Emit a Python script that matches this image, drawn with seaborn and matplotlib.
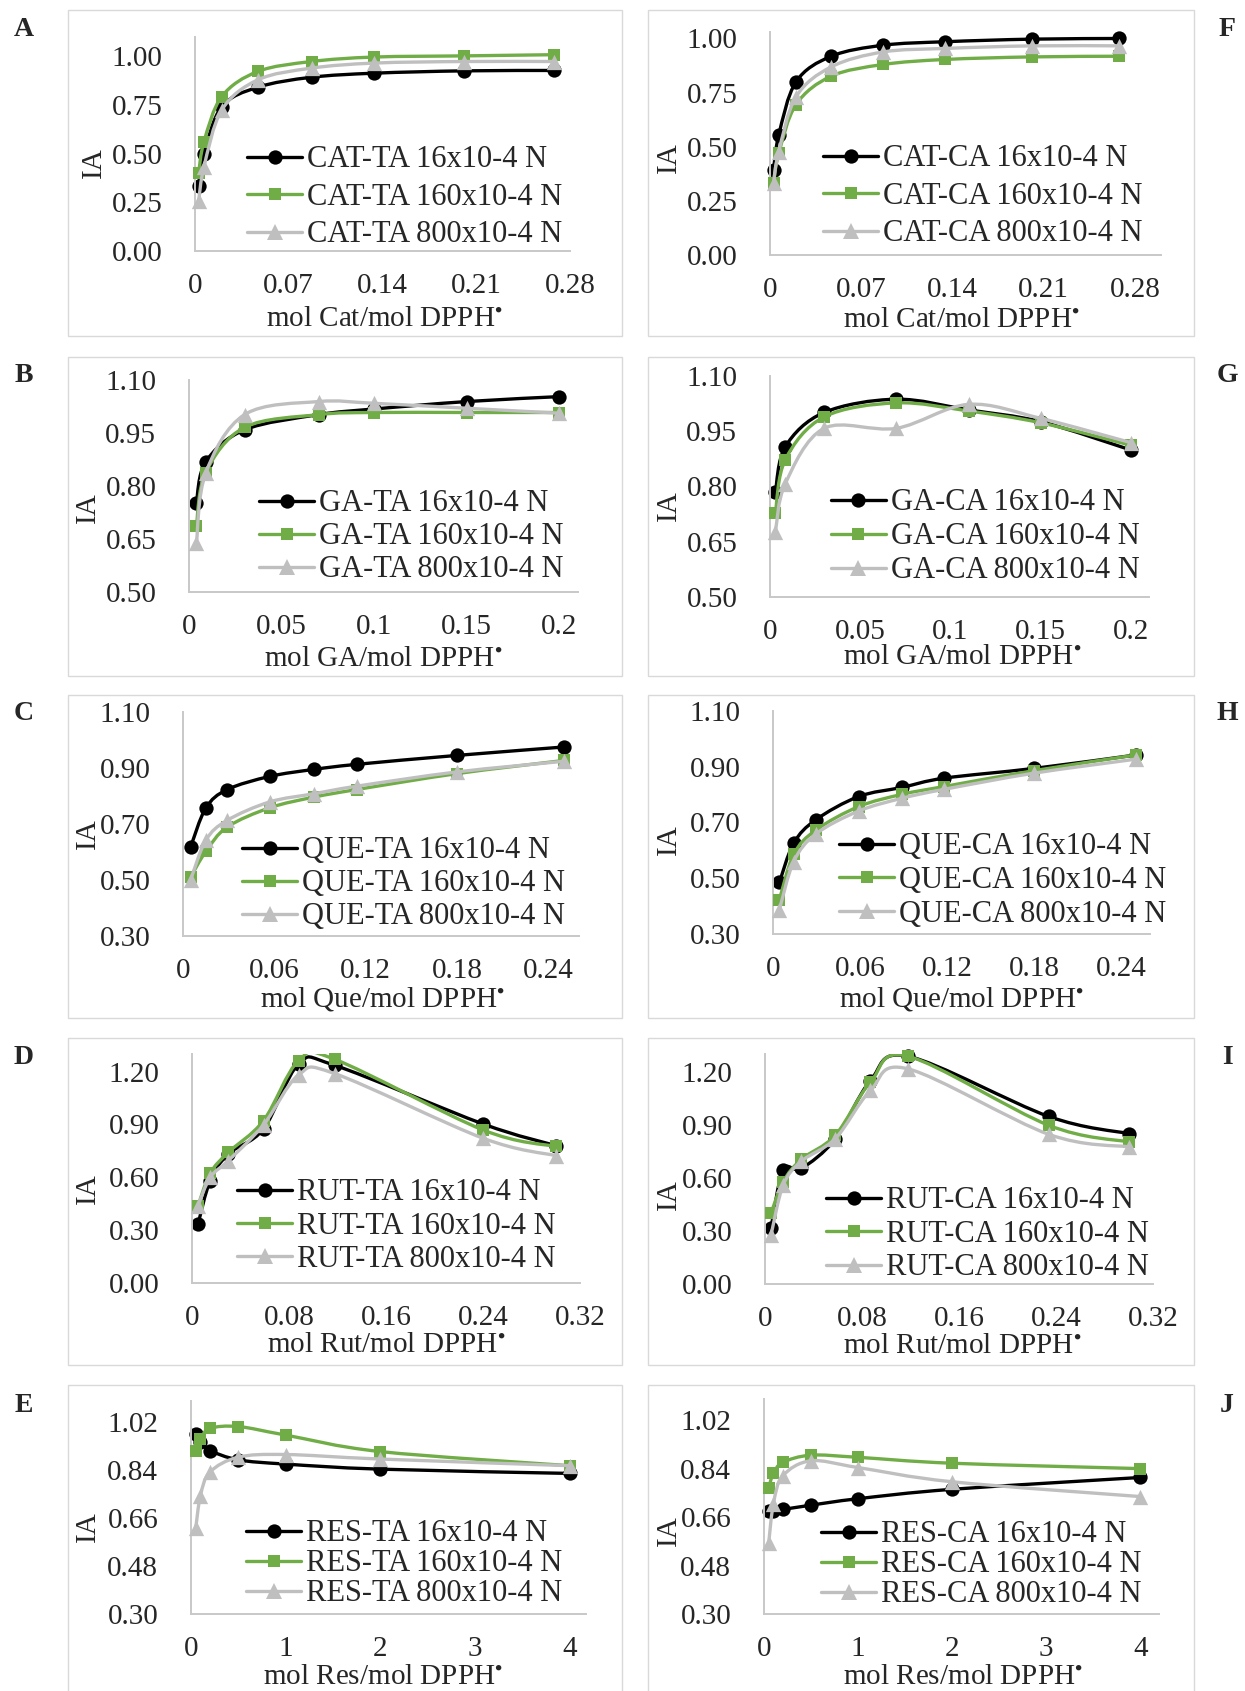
#!/usr/bin/env python3
"""Ten-panel DPPH antioxidant-activity figure (IA vs. mol antioxidant/mol DPPH)."""
import matplotlib
import numpy as np

matplotlib.use("Agg")
import matplotlib.pyplot as plt  # noqa: E402
import seaborn as sns  # noqa: E402
from matplotlib.lines import Line2D  # noqa: E402
from matplotlib.patches import PathPatch, Rectangle  # noqa: E402
from matplotlib.path import Path  # noqa: E402

W, H = 1245, 1691

# ---- data --------------------------------------------------------------
CAT_X = [0.0027, 0.0067, 0.020, 0.047, 0.087, 0.134, 0.201, 0.268]
CAT_TA_16 = [0.335, 0.500, 0.742, 0.842, 0.893, 0.914, 0.926, 0.928]
CAT_TA_160 = [0.399, 0.562, 0.794, 0.923, 0.974, 0.997, 1.003, 1.009]
CAT_TA_800 = [0.256, 0.433, 0.725, 0.880, 0.940, 0.966, 0.974, 0.974]
CAT_CA_16 = [0.392, 0.554, 0.800, 0.918, 0.969, 0.985, 0.997, 1.000]
CAT_CA_160 = [0.334, 0.469, 0.695, 0.826, 0.880, 0.903, 0.915, 0.918]
CAT_CA_800 = [0.334, 0.477, 0.731, 0.869, 0.938, 0.954, 0.966, 0.966]

GA_TA_X = [0.004, 0.009, 0.030, 0.070, 0.100, 0.150, 0.200]
GA_TA_16 = [0.753, 0.868, 0.959, 1.002, 1.018, 1.039, 1.053]
GA_TA_160 = [0.688, 0.838, 0.966, 1.002, 1.008, 1.008, 1.008]
GA_TA_800 = [0.638, 0.836, 1.002, 1.039, 1.034, 1.020, 1.006]
GA_CA_X = [0.003, 0.0085, 0.030, 0.070, 0.110, 0.150, 0.200]
GA_CA_16 = [0.785, 0.908, 1.001, 1.037, 1.008, 0.976, 0.899]
GA_CA_160 = [0.729, 0.873, 0.989, 1.027, 1.005, 0.973, 0.912]
GA_CA_800 = [0.677, 0.808, 0.958, 0.958, 1.023, 0.985, 0.919]

QUE_TA_X = [0.005, 0.015, 0.029, 0.057, 0.086, 0.114, 0.180, 0.250]
QUE_TA_16 = [0.618, 0.757, 0.823, 0.870, 0.895, 0.913, 0.945, 0.975]
QUE_TA_160 = [0.510, 0.602, 0.689, 0.758, 0.796, 0.823, 0.880, 0.927]
QUE_TA_800 = [0.500, 0.642, 0.713, 0.779, 0.808, 0.835, 0.886, 0.924]
QUE_CA_X = [0.0044, 0.0143, 0.0296, 0.059, 0.089, 0.118, 0.180, 0.250]
QUE_CA_16 = [0.485, 0.626, 0.710, 0.793, 0.826, 0.859, 0.894, 0.942]
QUE_CA_160 = [0.423, 0.586, 0.673, 0.757, 0.801, 0.829, 0.886, 0.942]
QUE_CA_800 = [0.387, 0.560, 0.659, 0.741, 0.787, 0.819, 0.877, 0.927]

RUT_TA_X = [0.005, 0.015, 0.030, 0.059, 0.088, 0.118, 0.240, 0.300]
RUT_TA_16 = [0.335, 0.581, 0.733, 0.875, 1.244, 1.235, 0.903, 0.780]
RUT_TA_160 = [0.439, 0.623, 0.742, 0.922, 1.263, 1.269, 0.869, 0.775]
RUT_TA_800 = [0.439, 0.600, 0.695, 0.898, 1.182, 1.188, 0.822, 0.723]
RUT_CA_X = [0.005, 0.015, 0.030, 0.058, 0.087, 0.118, 0.234, 0.300]
RUT_CA_16 = [0.319, 0.644, 0.653, 0.820, 1.150, 1.287, 0.947, 0.850]
RUT_CA_160 = [0.400, 0.578, 0.705, 0.841, 1.141, 1.287, 0.897, 0.803]
RUT_CA_800 = [0.278, 0.559, 0.694, 0.822, 1.094, 1.216, 0.846, 0.775]

RES_X = [0.05, 0.1, 0.2, 0.5, 1, 2, 4]
RES_TA_16 = [0.976, 0.945, 0.914, 0.879, 0.863, 0.844, 0.828]
RES_TA_160 = [0.914, 0.957, 0.997, 1.004, 0.972, 0.910, 0.857]
RES_TA_800 = [0.622, 0.745, 0.833, 0.889, 0.899, 0.882, 0.857]
RES_CA_16 = [0.685, 0.685, 0.689, 0.705, 0.729, 0.764, 0.808]
RES_CA_160 = [0.770, 0.823, 0.864, 0.891, 0.883, 0.861, 0.841]
RES_CA_800 = [0.564, 0.710, 0.814, 0.870, 0.845, 0.792, 0.737]

CAT_XTICKS = [0, 0.07, 0.14, 0.21, 0.28]
CAT_YTICKS = [0.0, 0.25, 0.50, 0.75, 1.00]
GA_XTICKS = [0, 0.05, 0.1, 0.15, 0.2]
GA_YTICKS = [0.50, 0.65, 0.80, 0.95, 1.10]
QUE_XTICKS = [0, 0.06, 0.12, 0.18, 0.24]
QUE_YTICKS = [0.30, 0.50, 0.70, 0.90, 1.10]
RUT_XTICKS = [0, 0.08, 0.16, 0.24, 0.32]
RUT_YTICKS = [0.0, 0.30, 0.60, 0.90, 1.20]
RES_XTICKS = [0, 1, 2, 3, 4]
RES_YTICKS = [0.30, 0.48, 0.66, 0.84, 1.02]

NORMALITIES = ["16x10-4 N", "160x10-4 N", "800x10-4 N"]

# letter -> (system, compound, x, [16, 160, 800], xticks, yticks)
PANELS = {
    "A": ("CAT-TA", "Cat", CAT_X, [CAT_TA_16, CAT_TA_160, CAT_TA_800], CAT_XTICKS, CAT_YTICKS),
    "F": ("CAT-CA", "Cat", CAT_X, [CAT_CA_16, CAT_CA_160, CAT_CA_800], CAT_XTICKS, CAT_YTICKS),
    "B": ("GA-TA", "GA", GA_TA_X, [GA_TA_16, GA_TA_160, GA_TA_800], GA_XTICKS, GA_YTICKS),
    "G": ("GA-CA", "GA", GA_CA_X, [GA_CA_16, GA_CA_160, GA_CA_800], GA_XTICKS, GA_YTICKS),
    "C": ("QUE-TA", "Que", QUE_TA_X, [QUE_TA_16, QUE_TA_160, QUE_TA_800], QUE_XTICKS, QUE_YTICKS),
    "H": ("QUE-CA", "Que", QUE_CA_X, [QUE_CA_16, QUE_CA_160, QUE_CA_800], QUE_XTICKS, QUE_YTICKS),
    "D": ("RUT-TA", "Rut", RUT_TA_X, [RUT_TA_16, RUT_TA_160, RUT_TA_800], RUT_XTICKS, RUT_YTICKS),
    "I": ("RUT-CA", "Rut", RUT_CA_X, [RUT_CA_16, RUT_CA_160, RUT_CA_800], RUT_XTICKS, RUT_YTICKS),
    "E": ("RES-TA", "Res", RES_X, [RES_TA_16, RES_TA_160, RES_TA_800], RES_XTICKS, RES_YTICKS),
    "J": ("RES-CA", "Res", RES_X, [RES_CA_16, RES_CA_160, RES_CA_800], RES_XTICKS, RES_YTICKS),
}

# ---- layout, in pixels of the 1245x1691 canvas -------------------------
# ax: left, top, right, bottom; leg: handle-left x, first-row centre y, row pitch
LAYOUT = {
    "A": dict(ax=(195, 37, 570, 251), xmax=0.28, ymax=1.10, leg=(247, 156, 37.5),
              ylab=(94, 163), xlab=(385, 319), letter=(24, 30), col=0, row=0),
    "F": dict(ax=(770, 32, 1161, 255), xmax=0.30, ymax=1.03, leg=(823, 155, 37.5),
              ylab=(669, 158), xlab=(962, 320), letter=(1227, 30), col=1, row=0),
    "B": dict(ax=(189, 380, 578, 592), xmax=0.21, ymax=1.10, leg=(259, 500, 33),
              ylab=(88, 508), xlab=(383, 659), letter=(24, 375), col=0, row=1),
    "G": dict(ax=(770, 376, 1149, 597), xmax=0.21, ymax=1.10, leg=(831, 499, 34),
              ylab=(669, 506), xlab=(962, 657), letter=(1227, 375), col=1, row=1),
    "C": dict(ax=(183, 712, 579, 936), xmax=0.26, ymax=1.10, leg=(242, 847, 33),
              ylab=(88, 834), xlab=(383, 999), letter=(24, 714), col=0, row=2),
    "H": dict(ax=(773, 711, 1150, 934), xmax=0.26, ymax=1.10, leg=(839, 843, 33.7),
              ylab=(669, 840), xlab=(962, 999), letter=(1227, 714), col=1, row=2),
    "D": dict(ax=(192, 1054, 580, 1283), xmax=0.32, ymax=1.30, leg=(237, 1189, 33.3),
              ylab=(88, 1189), xlab=(386, 1345), letter=(24, 1057), col=0, row=3),
    "I": dict(ax=(765, 1054, 1153, 1284), xmax=0.32, ymax=1.30, leg=(826, 1197, 33.5),
              ylab=(669, 1195), xlab=(962, 1346), letter=(1227, 1057), col=1, row=3),
    "E": dict(ax=(191, 1401, 586, 1614), xmax=4.17, ymax=1.10, leg=(246, 1530, 30),
              ylab=(88, 1527), xlab=(383, 1677), letter=(24, 1405), col=0, row=4),
    "J": dict(ax=(764, 1399, 1159, 1614), xmax=4.20, ymax=1.10, leg=(821, 1531, 30),
              ylab=(669, 1531), xlab=(963, 1677), letter=(1227, 1405), col=1, row=4),
}
FRAME_COLS = [(68, 622), (648, 1194)]
FRAME_ROWS = [(10, 336), (357, 676), (695, 1018), (1038, 1365), (1385, 1700)]

COLORS = ["#000000", "#70AD47", "#BFBFBF"]
MARKERS = ["o", "s", "^"]
MSIZE = [10.3, 9.3, 11.0]
AXIS_GREY = "#C8C8C8"
FS = 21          # ticks and axis titles
FS_LEG = 22      # legend entries
LEG_PX = FS_LEG * 100 / 72


def fx(x):
    return x / W


def fy(y):
    return 1 - y / H


def smooth_path(xs, ys):
    """Excel-style smoothed line: cubic Bezier through every data point."""
    pts = np.column_stack([xs, ys]).astype(float)
    n = len(pts)
    verts, codes = [pts[0]], [Path.MOVETO]
    for i in range(n - 1):
        p0, p1 = pts[max(i - 1, 0)], pts[i]
        p2, p3 = pts[i + 1], pts[min(i + 2, n - 1)]
        verts += [p1 + (p2 - p0) / 6, p2 - (p3 - p1) / 6, p2]
        codes += [Path.CURVE4] * 3
    return Path(verts, codes)


def draw_panel(fig, letter):
    system, compound, xs, series, xticks, yticks = PANELS[letter]
    lay = LAYOUT[letter]
    left, top, right, bottom = lay["ax"]
    ax = fig.add_axes([fx(left), fy(bottom), (right - left) / W, (bottom - top) / H])

    handles = []
    for i, ys in enumerate(series):
        ax.add_patch(PathPatch(smooth_path(xs, ys), facecolor="none",
                               edgecolor=COLORS[i], lw=2.4, zorder=2 + i,
                               capstyle="round", joinstyle="round"))
        sns.scatterplot(x=xs, y=ys, marker=MARKERS[i], s=MSIZE[i] ** 2,
                        color=COLORS[i], edgecolor=COLORS[i], linewidth=0,
                        ax=ax, zorder=2.5 + i, clip_on=False, legend=False)
        handles.append(Line2D([], [], color=COLORS[i], lw=2.4, marker=MARKERS[i],
                              markersize=MSIZE[i], markeredgewidth=0))

    ax.set_xlim(0, lay["xmax"])
    ax.set_ylim(yticks[0], lay["ymax"])
    ax.set_xticks(xticks, [f"{v:g}" for v in xticks])
    ax.set_yticks(yticks, [f"{v:.2f}" for v in yticks])
    ax.tick_params(axis="both", direction="out", length=5.5, width=1.4,
                   color=AXIS_GREY, labelsize=FS)
    ax.tick_params(axis="x", pad=10)
    ax.tick_params(axis="y", pad=18)
    for side in ("top", "right"):
        ax.spines[side].set_visible(False)
    for side in ("left", "bottom"):
        ax.spines[side].set_color(AXIS_GREY)
        ax.spines[side].set_linewidth(1.4)
    ax.patch.set_alpha(0)

    ax.set_xlabel(f"mol {compound}/mol DPPH$^{{\\bullet}}$", fontsize=FS, va="center")
    ax.xaxis.set_label_coords(fx(lay["xlab"][0]), fy(lay["xlab"][1]),
                              transform=fig.transFigure)
    ax.set_ylabel("IA", fontsize=FS, va="center")
    ax.yaxis.set_label_coords(fx(lay["ylab"][0]), fy(lay["ylab"][1]),
                              transform=fig.transFigure)

    lx, ly, pitch = lay["leg"]
    text_h = 0.95 * LEG_PX
    ax.legend(handles, [f"{system} {n}" for n in NORMALITIES],
              loc="upper left", bbox_to_anchor=(fx(lx), fy(ly + 4 - text_h / 2)),
              bbox_transform=fig.transFigure, frameon=False, fontsize=FS_LEG,
              borderpad=0, borderaxespad=0, handlelength=1.8, handletextpad=0.15,
              labelspacing=max(pitch - text_h, 0) / LEG_PX)

    fig.text(fx(lay["letter"][0]), fy(lay["letter"][1]), letter, fontsize=20,
             fontweight="bold", ha="center", va="center")

    x0, x1 = FRAME_COLS[lay["col"]]
    y0, y1 = FRAME_ROWS[lay["row"]]
    fig.add_artist(Rectangle((fx(x0), fy(y1)), (x1 - x0) / W, (y1 - y0) / H,
                             transform=fig.transFigure, fill=False,
                             edgecolor="#D9D9D9", lw=1.0, zorder=0))


def main():
    sns.set_style("white")
    plt.rcParams["font.family"] = ["Liberation Serif", "DejaVu Serif"]
    plt.rcParams["mathtext.fontset"] = "stix"

    fig = plt.figure(figsize=(W / 100, H / 100), dpi=100)
    for letter in PANELS:
        draw_panel(fig, letter)
    fig.savefig("out.png", dpi=100)
    plt.close(fig)


if __name__ == "__main__":
    main()
